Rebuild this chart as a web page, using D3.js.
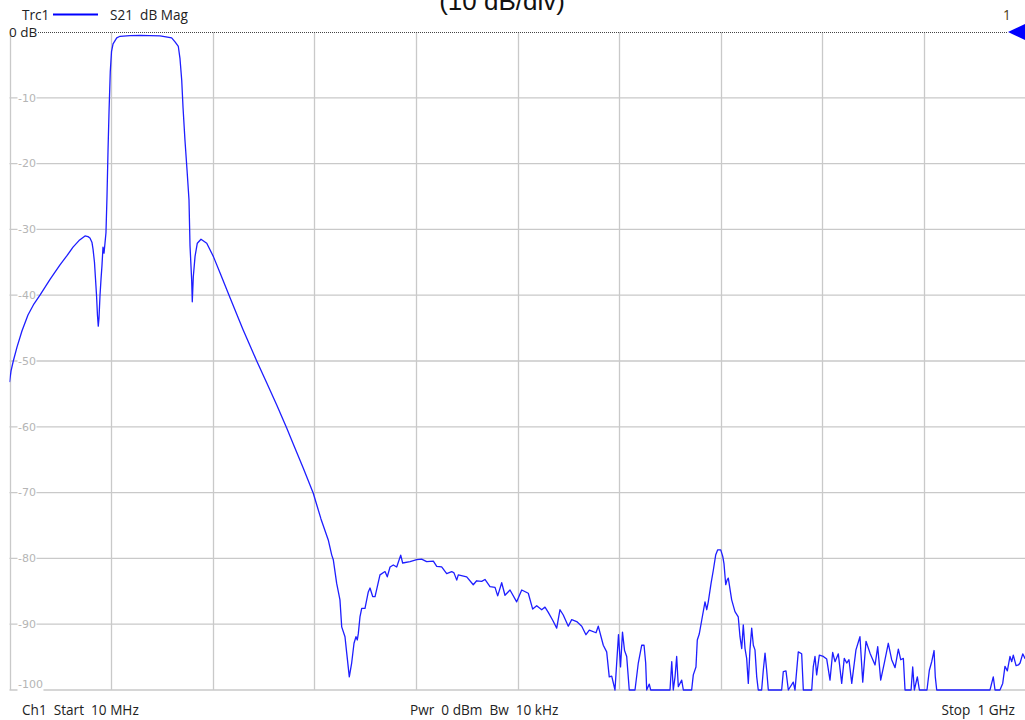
<!DOCTYPE html>
<html>
<head>
<meta charset="utf-8">
<script src="https://cdn.jsdelivr.net/npm/d3@7"></script>
<style>
  html, body { margin: 0; padding: 0; background: #fff; }
  svg { display: block; }
  text { white-space: pre; }
</style>
</head>
<body>
<svg id="chart" width="1025" height="720"></svg>
<script>
// ---- data ----
const freqMHz = [
  10.0, 11.5, 13.7, 17.3, 22.2, 28.0, 33.9, 39.7, 49.5, 59.2, 66.0, 71.9, 77.7, 83.6, 86.5, 88.4,
  90.4, 91.4, 92.8, 93.8, 94.8, 95.7, 96.5, 97.2, 98.2, 99.2, 100.1, 101.1, 102.1, 103.1, 104.0,
  105.0, 106.0, 107.0, 108.2, 109.4, 110.9, 114.5, 117.7, 127.5, 137.2, 146.9, 156.7, 162.5, 168.0,
  171.3, 174.5, 176.1, 177.8, 179.1, 181.0, 183.0, 184.9, 185.9, 187.5, 188.1, 189.1, 190.8, 193.0,
  196.6, 202.2, 208.6, 215.1, 224.9, 237.5, 250.9, 260.6, 270.4, 280.1, 286.5, 296.3, 306.0, 313.5,
  320.6, 324.0, 325.5, 328.8, 332.0, 333.7, 336.9, 338.6, 341.1, 343.4, 345.7, 347.6, 348.9, 349.9,
  351.5, 353.2, 356.4, 359.6, 361.3, 363.9, 366.2, 371.0, 375.9, 378.1, 380.8, 384.0, 387.3, 391.2,
  393.1, 400.3, 406.8, 411.6, 416.5, 423.0, 426.3, 431.1, 436.0, 440.9, 443.1, 445.8, 447.3, 455.5,
  461.9, 465.2, 470.1, 473.3, 478.2, 483.1, 485.7, 489.6, 492.8, 497.7, 504.2, 509.1, 515.5, 519.8,
  523.7, 528.6, 531.8, 535.0, 539.3, 543.2, 546.4, 549.6, 554.5, 557.8, 562.7, 567.6, 571.7, 575.0,
  581.5, 583.7, 588.6, 591.9, 594.4, 596.8, 600.0, 603.4, 605.4, 607.3, 609.3, 611.4, 613.9, 619.5,
  622.7, 626.0, 628.3, 629.9, 630.9, 633.4, 634.8, 653.6, 655.3, 656.8, 658.5, 660.1, 661.7, 665.0,
  666.6, 674.7, 676.3, 678.9, 680.2, 682.1, 684.5, 687.7, 689.4, 690.9, 693.6, 695.8, 698.1, 700.1,
  703.0, 705.0, 706.2, 707.9, 709.2, 710.4, 713.7, 716.9, 720.1, 721.8, 723.5, 725.0, 726.7, 728.3,
  729.9, 731.5, 733.2, 734.8, 736.4, 738.1, 739.6, 742.9, 744.5, 746.2, 747.8, 749.4, 762.4, 764.0,
  766.6, 768.9, 773.7, 775.4, 778.6, 781.9, 783.5, 791.7, 793.2, 794.9, 796.5, 799.1, 803.0, 806.3,
  809.5, 812.1, 814.4, 817.6, 820.9, 823.4, 825.8, 828.0, 830.7, 834.8, 838.7, 841.4, 844.6, 848.5,
  853.4, 856.0, 858.9, 862.4, 866.3, 869.6, 872.9, 876.1, 878.4, 881.0, 882.6, 888.5, 890.1, 891.7,
  894.6, 896.6, 904.0, 906.3, 908.6, 910.9, 912.1, 913.5, 965.4, 968.6, 970.3, 975.1, 977.8, 980.0,
  982.3, 984.9, 986.6, 988.1, 990.8, 993.1, 994.7, 997.3, 999.5, 1000.0
];
const s21dB = [
  -53.2, -51.5, -50.0, -47.9, -45.4, -43.0, -41.3, -40.0, -37.6, -35.4, -34.0, -32.7, -31.7, -31.0, -31.1, -31.3,
  -32.0, -33.0, -35.0, -37.5, -40.0, -43.0, -44.7, -43.5, -40.0, -37.5, -35.5, -32.7, -33.6, -32.0, -30.5,
  -25.0, -18.0, -12.0, -6.0, -3.0, -1.8, -0.9, -0.65, -0.55, -0.5, -0.55, -0.6, -0.75, -0.9,
  -1.5, -2.2, -4.0, -7.3, -11.5, -16.5, -21.0, -25.5, -32.5, -37.7, -41.0, -37.2, -34.1, -32.1,
  -31.5, -32.1, -34.1, -36.6, -40.4, -45.2, -50.0, -53.3, -56.7, -60.2, -62.6, -66.3, -70.1, -74.0,
  -77.2, -79.5, -80.2, -83.8, -86.3, -90.4, -91.9, -94.4, -98.0, -95.9, -92.9, -91.9, -92.4, -91.4,
  -88.9, -87.6, -87.6, -85.1, -84.5, -85.8, -85.8, -82.5, -82.0, -82.8, -81.3, -81.0, -81.3, -79.5,
  -80.7, -80.5, -80.2, -80.1, -80.5, -80.4, -81.2, -81.3, -82.3, -82.0, -82.2, -83.3, -82.5, -82.8,
  -84.0, -83.4, -83.5, -83.2, -84.3, -84.4, -85.7, -83.7, -85.6, -84.8, -86.6, -84.8, -85.3, -87.7,
  -87.2, -87.8, -87.4, -88.2, -89.4, -90.6, -87.8, -88.6, -90.3, -89.3, -89.6, -90.3, -91.6, -90.9,
  -91.3, -90.3, -93.2, -94.2, -98.0, -97.9, -100, -91.6, -96.5, -91.2, -94.0, -94.9, -100, -100,
  -95.9, -93.2, -93.2, -95.9, -100, -99.1, -100, -100, -95.7, -100, -98.0, -94.9, -99.5, -98.5,
  -100, -100, -97.7, -96.5, -92.4, -91.5, -89.4, -86.6, -87.8, -86.6, -83.8, -81.8, -79.5, -78.7,
  -78.7, -79.7, -80.8, -84.0, -83.3, -83.0, -86.3, -88.1, -88.9, -91.9, -93.7, -90.1, -93.7, -95.2,
  -99.0, -93.9, -90.6, -93.2, -93.9, -98.0, -100, -100, -97.0, -94.4, -97.0, -100, -100, -97.2,
  -97.1, -100, -98.8, -100, -94.2, -94.5, -100, -100, -96.5, -94.9, -97.7, -94.7, -94.9, -95.3,
  -98.5, -94.3, -95.7, -94.5, -99.0, -95.2, -95.9, -95.4, -99.0, -93.9, -91.9, -98.8, -92.6, -94.4,
  -96.2, -93.4, -98.5, -95.9, -92.9, -95.4, -96.6, -93.8, -95.4, -95.2, -100, -100, -96.5, -100,
  -98.0, -100, -100, -97.0, -95.7, -94.0, -98.0, -100, -100, -98.0, -100, -100, -99.0, -96.4,
  -97.1, -94.9, -95.7, -94.7, -96.3, -96.2, -95.9, -94.5, -95.2, -95.0
];
const yTickValues = [-10, -20, -30, -40, -50, -60, -70, -80, -90, -100];
const yTickLabels = ["-10", "-20", "-30", "-40", "-50", "-60", "-70", "-80", "-90", "-100"];
const xGridMHz = [10, 109, 208, 307, 406, 505, 604, 703, 802, 901, 1000];
const titleText = "(10 dB/div)";
const traceName = "Trc1";
const traceLabel = "S21  dB Mag";
const refLabel = "0 dB";
const footerLeft = "Ch1  Start  10 MHz";
const footerMid = "Pwr  0 dBm  Bw  10 kHz";
const footerRight = "Stop  1 GHz";

// ---- layout ----
const L = 9.5, R = 1025.5, T = 32, B = 690;
const svg = d3.select("#chart");
const x = d3.scaleLinear().domain([10, 1000]).range([L, R]);
const y = d3.scaleLinear().domain([-100, 0]).range([B, T]);

const gridColor = "#c9c9c9";
const traceColor = "#1e1eff";
const uiFont = "Open Sans";
const uiSize = 13.6;

// vertical grid
svg.append("g").selectAll("line").data(xGridMHz).join("line")
  .attr("x1", d => Math.round(x(d)) + 0.5).attr("x2", d => Math.round(x(d)) + 0.5)
  .attr("y1", T).attr("y2", B)
  .attr("stroke", gridColor).attr("stroke-width", 1.3);

// horizontal grid
svg.append("g").selectAll("line").data(yTickValues).join("line")
  .attr("x1", L).attr("x2", R)
  .attr("y1", d => y(d)).attr("y2", d => y(d))
  .attr("stroke", gridColor).attr("stroke-width", 1.3);

// y labels with white knockout
const lab = svg.append("g").attr("font-family", "DejaVu Sans").attr("font-size", 11).attr("fill", "#b5b5b5");
yTickValues.forEach((v, i) => {
  const yy = v === -100 ? y(v) - 6 : y(v);
  const t = lab.append("text").attr("x", 18).attr("y", yy).attr("dy", "0.35em").text(yTickLabels[i]);
  const bb = t.node().getBBox();
  lab.insert("rect", "text").attr("x", bb.x - 0.5).attr("y", y(v) - 1.5).attr("width", bb.width + 1).attr("height", 3).attr("fill", "#fff");
});

// reference line (0 dB) dotted
svg.append("line").attr("x1", 38).attr("x2", 1008).attr("y1", y(0) + 0.5).attr("y2", y(0) + 0.5)
  .attr("stroke", "#444").attr("stroke-width", 1).attr("stroke-dasharray", "1,1");
svg.append("text").attr("x", 9).attr("y", y(0)).attr("dy", "0.35em")
  .attr("font-family", uiFont).attr("font-size", 13.5).attr("fill", "#222").text(refLabel);

// trace
svg.append("clipPath").attr("id", "plotclip").append("rect")
  .attr("x", L).attr("y", T - 2).attr("width", R - L).attr("height", B - T + 3);
const pts = freqMHz.map((f, i) => [f, s21dB[i]]);
const line = d3.line().x(d => x(d[0])).y(d => y(Math.max(-100, d[1])));
svg.append("path").datum(pts).attr("d", line).attr("fill", "none")
  .attr("stroke", traceColor).attr("stroke-width", 1.3).attr("stroke-linejoin", "round")
  .attr("clip-path", "url(#plotclip)");

// reference marker triangle
svg.append("path").attr("d", d3.line()([[1008, y(0)], [1025, y(0) - 8], [1025, y(0) + 8]]) + "Z")
  .attr("fill", "#0000ff");
svg.append("text").attr("x", 1007).attr("y", 15).attr("dy", "0.35em").attr("text-anchor", "middle")
  .attr("font-family", uiFont).attr("font-size", uiSize).attr("fill", "#4a3a10").text("1");

// legend
svg.append("text").attr("x", 22).attr("y", 15).attr("dy", "0.35em")
  .attr("font-family", uiFont).attr("font-size", uiSize).attr("fill", "#222").text(traceName);
svg.append("line").attr("x1", 53).attr("x2", 98).attr("y1", 14.5).attr("y2", 14.5)
  .attr("stroke", "#0000ff").attr("stroke-width", 2);
svg.append("text").attr("x", 110).attr("y", 15).attr("dy", "0.35em")
  .attr("font-family", uiFont).attr("font-size", uiSize).attr("fill", "#222").text(traceLabel);

// title (partially clipped at top, as in the reference)
svg.append("text").attr("x", 502).attr("y", 10).attr("text-anchor", "middle")
  .attr("font-family", "Liberation Sans").attr("font-size", 26).attr("fill", "#111").text(titleText);

// footer
const foot = svg.append("g").attr("font-family", uiFont).attr("font-size", uiSize).attr("fill", "#222");
foot.append("text").attr("x", 22).attr("y", 710).attr("dy", "0.35em").text(footerLeft);
foot.append("text").attr("x", 410).attr("y", 710).attr("dy", "0.35em").text(footerMid);
foot.append("text").attr("x", 1015).attr("y", 710).attr("dy", "0.35em").attr("text-anchor", "end").text(footerRight);
</script>
</body>
</html>
